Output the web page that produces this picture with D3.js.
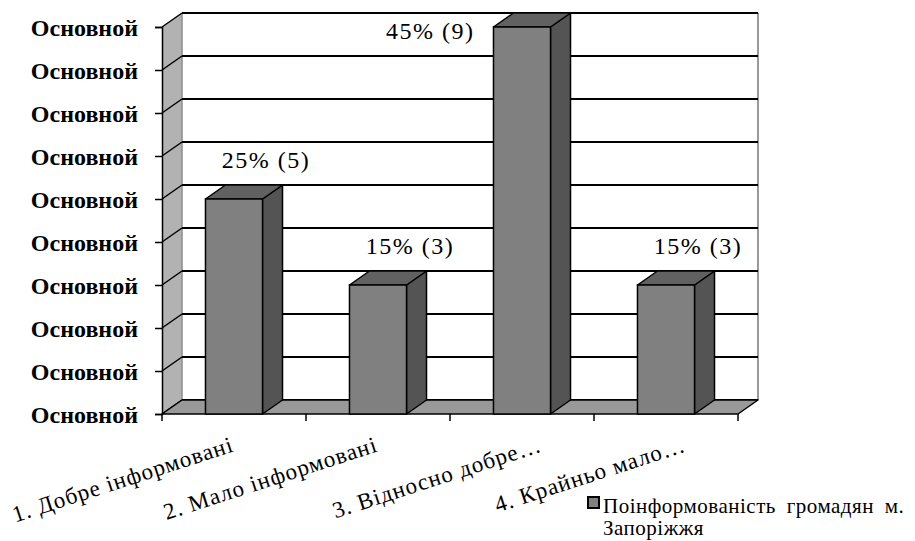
<!DOCTYPE html>
<html lang="uk">
<head>
<meta charset="utf-8">
<script src="https://d3js.org/d3.v7.min.js"></script>
<style>
    body { margin: 0; background: #fff; }
    svg text { font-family: "Liberation Serif", "Times New Roman", serif; fill: #000; }
    .ytick { font-size: 24px; font-weight: bold; text-anchor: end; }
    .xlabel { font-size: 23px; letter-spacing: 1px; text-anchor: end; }
    .data-label { font-size: 24px; letter-spacing: 1.5px; }
    .legend { font-size: 21px; letter-spacing: 0.5px; word-spacing: 5px; }
</style>
</head>
<body>
<script>
    // data
    var categories = ["1. Добре інформовані", "2. Мало інформовані", "3. Відносно добре…", "4. Крайньо мало…"];
    var values = [25, 15, 45, 15];
    var counts = [5, 3, 9, 3];
    var yTicks = [0, 5, 10, 15, 20, 25, 30, 35, 40, 45];
    var yTickLabels = ["Основной", "Основной", "Основной", "Основной", "Основной",
                       "Основной", "Основной", "Основной", "Основной", "Основной"];
    var seriesName = ["Поінформованість громадян м.", "Запоріжжя"];

    var width = 915, height = 541;
    var plotL = 162, plotR = 738, plotB = 414, plotT = 27;
    var dx = 20, dy = 14;   // depth of the 3d box
    var serif = "'Liberation Serif', 'Times New Roman', serif";

    var svg = d3.select("body").append("svg")
        .attr("width", width)
        .attr("height", height);

    var x = d3.scaleBand()
        .domain(categories)
        .range([plotL, plotR])
        .padding(0);

    var y = d3.scaleLinear()
        .domain([0, 45])
        .range([plotB, plotT]);

    var barW = x.bandwidth() * 0.396;
    var barOff = (x.bandwidth() - barW) / 2;

    // back wall edge
    svg.append("line")
        .attr("x1", plotR + dx).attr("x2", plotR + dx)
        .attr("y1", plotT - dy).attr("y2", plotB - dy)
        .attr("stroke", "#9a9a9a").attr("stroke-width", 2);

    // left wall
    svg.append("polygon")
        .attr("points", [[plotL, plotB], [plotL, plotT], [plotL + dx, plotT - dy], [plotL + dx, plotB - dy]].join(" "))
        .attr("fill", "#b2b2b2")
        .attr("stroke", "none");
    svg.append("line")
        .attr("x1", plotL + dx).attr("x2", plotL + dx)
        .attr("y1", plotT - dy).attr("y2", plotB - dy)
        .attr("stroke", "#8c8c8c").attr("stroke-width", 1.5);

    // grid lines on the back wall and the left wall
    var grid = svg.append("g").attr("class", "grid");
    grid.selectAll(".gback")
        .data(yTicks)
        .enter().append("line")
        .attr("x1", plotL + dx).attr("x2", plotR + dx)
        .attr("y1", function(d) { return y(d) - dy; })
        .attr("y2", function(d) { return y(d) - dy; })
        .attr("stroke", "#000").attr("stroke-width", 2);
    grid.selectAll(".gside")
        .data(yTicks)
        .enter().append("line")
        .attr("x1", plotL).attr("x2", plotL + dx)
        .attr("y1", function(d) { return y(d); })
        .attr("y2", function(d) { return y(d) - dy; })
        .attr("stroke", "#000").attr("stroke-width", 1.5);

    // floor
    svg.append("polygon")
        .attr("points", [[plotL, plotB], [plotR, plotB], [plotR + dx, plotB - dy], [plotL + dx, plotB - dy]].join(" "))
        .attr("fill", "#999999")
        .attr("stroke", "#000").attr("stroke-width", 1.5)
        .attr("stroke-linejoin", "round");

    // y axis
    var yAxis = svg.append("g")
        .attr("transform", "translate(" + plotL + ",0)")
        .call(d3.axisLeft(y).tickValues(yTicks).tickSize(7).tickPadding(17)
            .tickFormat(function(d, i) { return yTickLabels[i]; }));
    yAxis.attr("font-family", null).attr("font-size", null);
    yAxis.select(".domain").attr("stroke", "#000").attr("stroke-width", 1.5);
    yAxis.selectAll(".tick line").attr("stroke", "#000").attr("stroke-width", 1.5);
    yAxis.selectAll("text")
        .attr("class", "ytick")
        .attr("fill", "#000")
        .attr("dy", "0.35em")
        .style("font-family", serif);

    // x axis ticks
    var xTicks = categories.map(function(c) { return x(c); }).concat([plotR]);
    svg.append("g").selectAll("line")
        .data(xTicks)
        .enter().append("line")
        .attr("x1", function(d) { return d; }).attr("x2", function(d) { return d; })
        .attr("y1", plotB).attr("y2", plotB + 7)
        .attr("stroke", "#000").attr("stroke-width", 1.5);

    // bars
    var bars = svg.selectAll(".bar")
        .data(values)
        .enter().append("g")
        .attr("class", "bar");

    bars.append("polygon")   // side
        .attr("points", function(d, i) {
            var x1 = x(categories[i]) + barOff + barW;
            return [[x1, y(d)], [x1 + dx, y(d) - dy], [x1 + dx, plotB - dy], [x1, plotB]].join(" ");
        })
        .attr("fill", "#545454").attr("stroke", "#000").attr("stroke-width", 1.5)
        .attr("stroke-linejoin", "round");
    bars.append("polygon")   // top
        .attr("points", function(d, i) {
            var x0 = x(categories[i]) + barOff, x1 = x0 + barW;
            return [[x0, y(d)], [x0 + dx, y(d) - dy], [x1 + dx, y(d) - dy], [x1, y(d)]].join(" ");
        })
        .attr("fill", "#616161").attr("stroke", "#000").attr("stroke-width", 1.5)
        .attr("stroke-linejoin", "round");
    bars.append("rect")      // front
        .attr("x", function(d, i) { return x(categories[i]) + barOff; })
        .attr("y", function(d) { return y(d); })
        .attr("width", barW)
        .attr("height", function(d) { return plotB - y(d); })
        .attr("fill", "#808080").attr("stroke", "#000").attr("stroke-width", 1.5);

    // data labels (the tallest one is pushed to the left of its bar)
    var tooHigh = function(d) { return y(d) - 32 < plotT; };
    svg.selectAll(".data-label")
        .data(values)
        .enter().append("text")
        .attr("class", "data-label")
        .style("font-family", serif)
        .attr("text-anchor", function(d) { return tooHigh(d) ? "end" : "middle"; })
        .attr("x", function(d, i) {
            var cx = x(categories[i]) + x.bandwidth() / 2;
            return tooHigh(d) ? x(categories[i]) + barOff - 19 : cx + 32;
        })
        .attr("y", function(d) { return tooHigh(d) ? y(d) + 12 : y(d) - 31; })
        .text(function(d, i) { return d + "% (" + counts[i] + ")"; });

    // category labels (truncated ones sit a bit further right, as in excel)
    svg.selectAll(".xlabel")
        .data(categories)
        .enter().append("text")
        .attr("class", "xlabel")
        .style("font-family", serif)
        .attr("transform", function(d) {
            var shift = d.slice(-1) === "…" ? 20 : 0;
            return "translate(" + (x(d) + x.bandwidth() / 2 + 1 + shift) + "," + (plotB + 37) + ") rotate(-18)";
        })
        .text(function(d) { return d; });

    // legend
    var legend = svg.append("g").attr("transform", "translate(588,497)");
    legend.append("rect")
        .attr("width", 11).attr("height", 11)
        .attr("fill", "#808080").attr("stroke", "#000").attr("stroke-width", 2);
    legend.selectAll("text")
        .data(seriesName)
        .enter().append("text")
        .attr("class", "legend")
        .style("font-family", serif)
        .attr("x", 15)
        .attr("y", function(d, i) { return 16 + i * 22; })
        .text(function(d) { return d; });
</script>
</body>
</html>
